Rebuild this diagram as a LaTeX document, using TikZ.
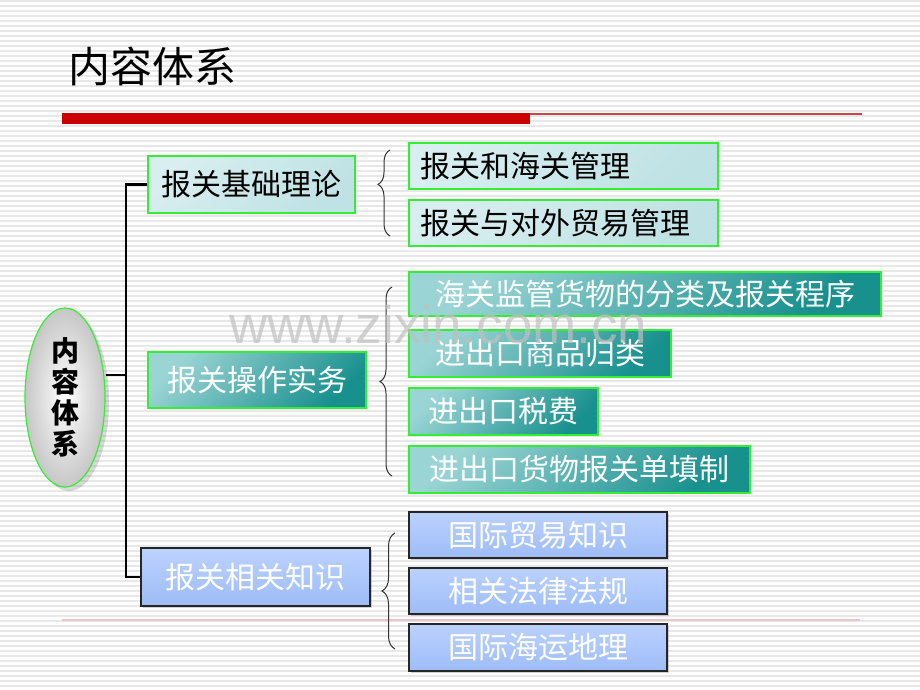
\documentclass[tikz,border=0pt]{standalone}
\usepackage{fontspec}
\newfontfamily\cjk{Noto Sans CJK SC}
\newfontfamily\wmfont{Liberation Sans}
\usetikzlibrary{decorations.pathreplacing,shadows,shapes.geometric,calc}
\definecolor{stripe}{HTML}{E8E8E8}
\definecolor{barred}{HTML}{CC0000}
\definecolor{thinred}{HTML}{C84848}
\definecolor{pinkline}{HTML}{F0C4C4}
\definecolor{lime}{HTML}{33EE33}
\definecolor{cyanA}{HTML}{D8EEF0}
\definecolor{cyanB}{HTML}{BFE2E4}
\definecolor{tealA}{HTML}{9AD4D4}
\definecolor{tealB}{HTML}{18908E}
\definecolor{blueA}{HTML}{BCD2FF}
\definecolor{blueB}{HTML}{9DBCF6}
\definecolor{wmgray}{HTML}{BFBFBF}
\tikzset{
  box/.style={rectangle, inner sep=0pt, line width=1.4pt, font=\cjk\fontsize{30}{32}\selectfont},
  cyanbox/.style={box, draw=lime, top color=cyanA, bottom color=cyanB, shading angle=45, text=black},
  leftbox/.style={cyanbox, align=left, text width=#1, inner xsep=11pt},
  tealbox/.style={box, draw=lime, top color=tealA, bottom color=tealB, shading angle=45, text=white},
  bluebox/.style={box, draw=black!85, top color=blueA, bottom color=blueB, text=white,
     drop shadow={opacity=0.35, shadow xshift=2pt, shadow yshift=-2pt}},
  trunk/.style={line width=2.6pt, black},
  bracestyle/.style={decorate, draw=black!80, line width=1pt},
}
\begin{document}
\begin{tikzpicture}[x=1pt,y=-1pt]
\useasboundingbox (0,0) rectangle (920,690);
\fill[white] (0,0) rectangle (920,690);
\foreach \yy in {0,5,...,690} { \fill[stripe] (0,\yy) rectangle (920,\yy+2); }
% title and rules
\node[anchor=west, inner sep=0pt, font=\cjk\fontsize{42}{44}\selectfont] (title) at (68,66) {内容体系};
\fill[barred] (62,113) rectangle (530,124);
\fill[thinred] (530,113) rectangle (862,115);
\draw[pinkline, line width=2pt] (62,620) -- (860,620);
% central ellipse
\node[ellipse, draw=lime, line width=1.2pt, inner color=white, outer color=black!22,
  minimum width=80pt, minimum height=179pt, inner sep=0pt,
  drop shadow={opacity=0.3, shadow xshift=4pt, shadow yshift=-4pt},
  font=\cjk\bfseries\fontsize{28}{31}\selectfont, align=center] (e) at (65,397.5) {内\\容\\体\\系};
% level-1 boxes
\node[cyanbox, minimum width=207pt, minimum height=57pt] (b1) at (251.5,184.5) {报关基础理论};
\node[tealbox, minimum width=218pt, minimum height=56pt] (b2) at (257,380) {报关操作实务};
\node[bluebox, minimum width=229pt, minimum height=58pt] (b3) at (255.5,577) {报关相关知识};
% trunk
\coordinate (t) at (126,375);
\draw[trunk] (b1.west) -| (t) |- (b3.west);
\draw[trunk, line width=2pt] (e.east |- t) -- (t);
% level-2 boxes
\node[leftbox=287pt, minimum width=309pt, minimum height=46pt] (a1) at (563.5,166) {报关和海关管理};
\node[leftbox=287pt, minimum width=309pt, minimum height=46pt] (a2) at (563.5,223) {报关与对外贸易管理};
\node[tealbox, minimum width=472pt, minimum height=44pt] (c1) at (645,294) {海关监管货物的分类及报关程序};
\node[tealbox, minimum width=262pt, minimum height=47pt] (c2) at (540,353.5) {进出口商品归类};
\node[tealbox, minimum width=189pt, minimum height=47pt] (c3) at (503.5,411.5) {进出口税费};
\node[tealbox, minimum width=341pt, minimum height=47pt] (c4) at (579.5,469.5) {进出口货物报关单填制};
\node[bluebox, minimum width=258pt, minimum height=46pt] (d1) at (538,535) {国际贸易知识};
\node[bluebox, minimum width=258pt, minimum height=46pt] (d2) at (538,591) {相关法律法规};
\node[bluebox, minimum width=258pt, minimum height=47pt] (d3) at (538,647.5) {国际海运地理};
% braces
\coordinate (g1s) at (390,236); \coordinate (g1e) at (390,150);
\coordinate (g2s) at (392,476); \coordinate (g2e) at (392,287);
\coordinate (g3s) at (395,649); \coordinate (g3e) at (395,533);
\draw[bracestyle, decoration={brace, amplitude=12pt, aspect=0.6}] (g1s) -- (g1e);
\draw[bracestyle, decoration={brace, amplitude=12pt, aspect=0.5}] (g2s) -- (g2e);
\draw[bracestyle, decoration={brace, amplitude=13pt, aspect=0.5}] (g3s) -- (g3e);
% watermark (semi-transparent, on top)
\node[anchor=base west, inner sep=0pt, text=wmgray, text opacity=0.7, font=\wmfont\fontsize{53}{55}\selectfont] (wm) at (229,343) {www.zixin.com.cn};
\end{tikzpicture}
\end{document}
